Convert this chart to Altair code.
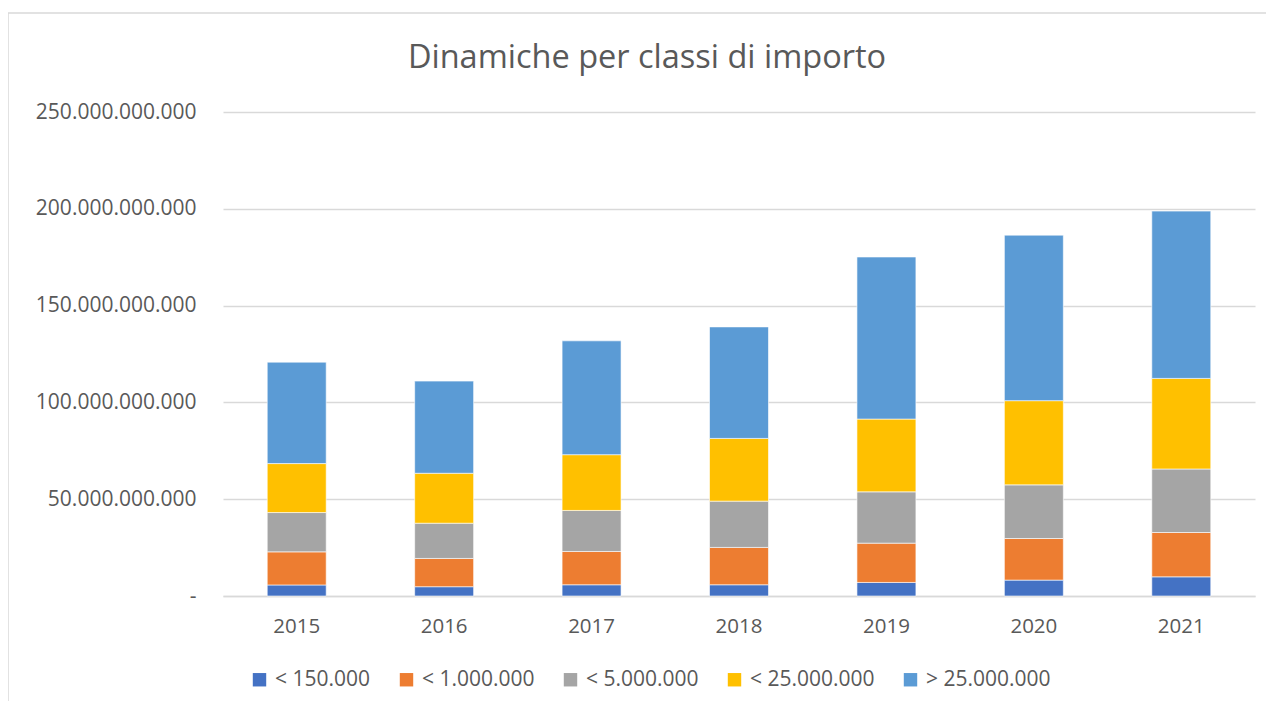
import altair as alt
import pandas as pd

years = ["2015", "2016", "2017", "2018", "2019", "2020", "2021"]
classes = ["< 150.000", "< 1.000.000", "< 5.000.000", "< 25.000.000", "> 25.000.000"]
colors = ["#4472C4", "#ED7D31", "#A5A5A5", "#FFC000", "#5B9BD5"]

# values in billions of euro
v_150k = [5.7, 4.8, 5.8, 5.8, 7.0, 8.2, 9.9]
v_1m = [17.1, 14.6, 17.2, 19.3, 20.3, 21.5, 22.9]
v_5m = [20.3, 18.2, 21.2, 23.9, 26.5, 27.7, 32.8]
v_25m = [25.3, 25.8, 28.8, 32.4, 37.6, 43.5, 46.8]
v_gt25m = [52.4, 47.6, 58.8, 57.6, 83.7, 85.5, 86.4]

y_ticks = [0, 50e9, 100e9, 150e9, 200e9, 250e9]

series = [v_150k, v_1m, v_5m, v_25m, v_gt25m]
rows = []
for ci, (cls, vals) in enumerate(zip(classes, series)):
    for yr, v in zip(years, vals):
        rows.append({"anno": yr, "classe": cls, "ordine": ci, "valore": v * 1e9})
df = pd.DataFrame(rows)

FONT = "Open Sans"
TXT = "#595959"
GRID = "#D9D9D9"

bars = alt.Chart(df).mark_bar(stroke="white", strokeWidth=0.6).encode(
    x=alt.X(
        "anno:N",
        title=None,
        sort=years,
        scale=alt.Scale(paddingInner=0.6, paddingOuter=0.3),
        axis=alt.Axis(
            labelAngle=0, labelFontSize=20.5, labelFont=FONT, labelColor=TXT,
            ticks=False, domain=True, domainColor=GRID, domainWidth=1.5,
            labelPadding=20, grid=False,
        ),
    ),
    y=alt.Y(
        "valore:Q",
        title=None,
        stack="zero",
        scale=alt.Scale(domain=[0, 250e9], nice=False),
        axis=alt.Axis(
            values=y_ticks, labelFontSize=21, labelFont=FONT, labelColor=TXT,
            ticks=False, domain=False, grid=True, gridColor=GRID, gridWidth=1.5,
            labelPadding=27,
            labelExpr="datum.value == 0 ? '-' : replace(format(datum.value, ','), regexp(',', 'g'), '.')",
        ),
    ),
    color=alt.Color(
        "classe:N",
        sort=classes,
        scale=alt.Scale(domain=classes, range=colors),
        legend=alt.Legend(
            title=None, orient="none", legendX=26, legendY=557,
            direction="horizontal", columns=5, symbolType="square",
            symbolSize=180, symbolStrokeWidth=0, labelFontSize=21,
            labelFont=FONT, labelColor=TXT, columnPadding=25, labelOffset=5,
        ),
    ),
    order=alt.Order("ordine:Q", sort="ascending"),
)

frame = alt.Chart(pd.DataFrame({"a": [0]})).mark_rect(
    fill="transparent", stroke=GRID, strokeWidth=1.5
).encode(
    x=alt.value(-215), x2=alt.value(1200), y=alt.value(-99), y2=alt.value(700)
)

chart = alt.layer(frame, bars).properties(
    width=1032,
    height=484,
    padding={"left": 215, "top": 104, "right": 11, "bottom": 105},
    autosize=alt.AutoSizeParams(type="none"),
    title=alt.TitleParams(
        "Dinamiche per classi di importo", fontSize=32.5, font=FONT, color=TXT,
        fontWeight="normal", anchor="middle", dx=-92, offset=-88, baseline="alphabetic",
    ),
).configure_view(stroke=None)

chart.save("out.html", embed_options={"renderer": "svg", "actions": False})
